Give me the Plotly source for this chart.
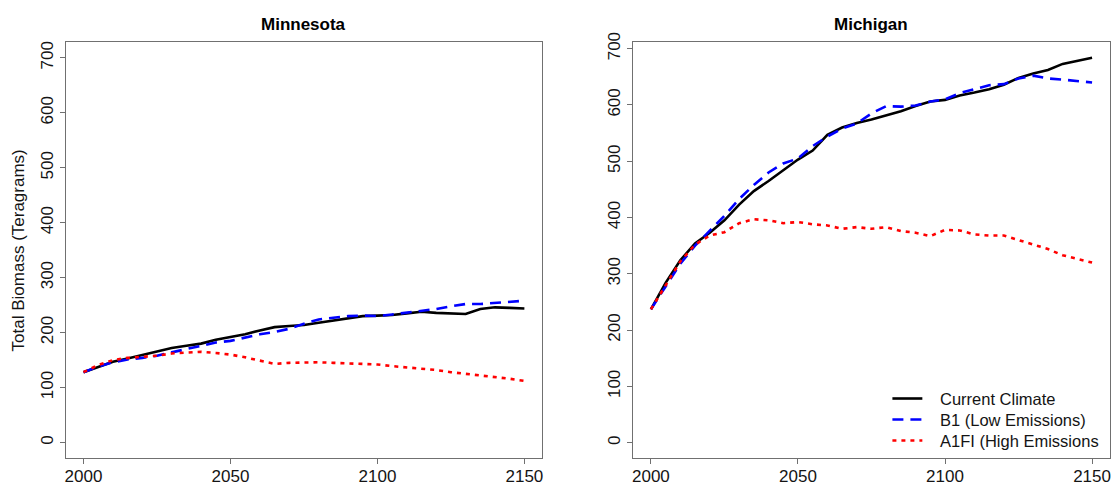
import plotly.graph_objects as go

# Simulated total forest biomass (Tg) under three climate scenarios
years = list(range(2000, 2151, 5))

mn_current = [128, 138, 147, 153, 159, 166, 172, 176, 180, 187, 192, 197, 204, 210, 212, 214,
              218, 222, 227, 230, 231, 232, 235, 238, 236, 235, 234, 243, 246, 245, 244]
mn_b1 = [128, 138, 146, 151, 154, 158, 164, 170, 176, 182, 185, 191, 197, 201, 207, 216,
         224, 227, 230, 231, 230, 233, 236, 240, 243, 248, 252, 252, 254, 256, 258]
mn_a1fi = [128, 141, 150, 154, 156, 158, 162, 164, 165, 163, 160, 155, 149, 143, 145, 146,
           146, 145, 144, 144, 142, 139, 137, 135, 132, 128, 125, 122, 120, 116, 112]

mi_current = [237, 284, 324, 354, 373, 395, 423, 447, 465, 484, 503, 519, 547, 560, 568, 574,
              581, 589, 598, 606, 609, 617, 622, 628, 636, 648, 656, 662, 673, 678, 684]
mi_b1 = [237, 278, 318, 350, 377, 403, 433, 458, 480, 496, 505, 527, 544, 558, 567, 585,
         598, 597, 599, 606, 610, 621, 628, 635, 637, 647, 652, 647, 645, 643, 640]
mi_a1fi = [237, 280, 322, 352, 368, 374, 390, 397, 395, 390, 392, 388, 386, 380, 383, 380,
           383, 376, 373, 367, 378, 377, 370, 368, 368, 360, 352, 344, 333, 326, 320]

states = ["Minnesota", "Michigan"]
scenario_names = ["Current Climate", "B1 (Low Emissions)", "A1FI (High Emissions"]
x_ticks = [2000, 2050, 2100, 2150]
y_ticks = [0, 100, 200, 300, 400, 500, 600, 700]

W, H = 1118, 486
FONT = "Liberation Sans, Arial, sans-serif"
AXIS_GREY = "#707070"
TEXT = "#141414"

styles = [
    dict(color="black", width=2.6, dash="solid"),
    dict(color="#0000ff", width=2.6, dash="11px,7px"),
    dict(color="#ff0000", width=2.6, dash="4px,5px"),
]

panel_data = [
    (mn_current, mn_b1, mn_a1fi),
    (mi_current, mi_b1, mi_a1fi),
]

fig = go.Figure()
for p, series in enumerate(panel_data):
    xa = "x" if p == 0 else "x2"
    ya = "y" if p == 0 else "y2"
    for s, vals in enumerate(series):
        fig.add_trace(go.Scatter(
            x=years, y=vals, mode="lines", xaxis=xa, yaxis=ya,
            name=scenario_names[s], line=styles[s], showlegend=False,
        ))

# pixel geometry of the two plot boxes
box_top, box_bottom = 33, 458.5
x_dom = [(65 / W, 542 / W), (633.4 / W, 1110.7 / W)]
y_dom = ((H - box_bottom) / H, (H - box_top) / H)
y_ranges = [(-28.4, 728.4), (-27.4, 711.4)]

axis_common = dict(
    showline=True, mirror=True, linecolor=AXIS_GREY, linewidth=1,
    ticks="outside", ticklen=5, tickcolor=AXIS_GREY, tickwidth=1,
    showgrid=False, zeroline=False,
    tickfont=dict(family=FONT, size=17, color=TEXT),
)

layout = dict(
    width=W, height=H,
    margin=dict(l=0, r=0, t=0, b=0),
    paper_bgcolor="white", plot_bgcolor="white",
    font=dict(family=FONT, size=16, color=TEXT),
    showlegend=False,
)
for p in range(2):
    sfx = "" if p == 0 else "2"
    layout["xaxis" + sfx] = dict(
        axis_common, domain=list(x_dom[p]), range=[1994, 2156],
        tickvals=x_ticks, anchor="y" + sfx, ticklabelstandoff=-3,
    )
    layout["yaxis" + sfx] = dict(
        axis_common, domain=list(y_dom), range=list(y_ranges[p]),
        tickvals=y_ticks, tickangle=-90, anchor="x" + sfx,
    )
fig.update_layout(**layout)

annotations = []
for p, name in enumerate(states):
    annotations.append(dict(
        text="<b>%s</b>" % name, xref="paper", yref="paper",
        x=(x_dom[p][0] + x_dom[p][1]) / 2, y=(H - 15) / H,
        xanchor="center", yanchor="middle", showarrow=False,
        font=dict(family=FONT, size=17, color="black"),
    ))
annotations.append(dict(
    text="Total Biomass (Teragrams)", xref="paper", yref="paper",
    x=17 / W, y=(H - 246) / H, xanchor="center", yanchor="middle",
    textangle=-90, showarrow=False,
    font=dict(family=FONT, size=17, color=TEXT),
))

# legend key drawn inside the Michigan panel
legend_x0, legend_x1, legend_text_x = 893, 923, 939
legend_rows = [397.5, 419, 440.5]
shapes = []
for s, name in enumerate(scenario_names):
    yy = (H - legend_rows[s]) / H
    shapes.append(dict(
        type="line", xref="paper", yref="paper",
        x0=legend_x0 / W, x1=legend_x1 / W, y0=yy, y1=yy,
        line=styles[s],
    ))
    annotations.append(dict(
        text=name, xref="paper", yref="paper",
        x=legend_text_x / W, y=yy, xanchor="left", yanchor="middle",
        showarrow=False, font=dict(family=FONT, size=16.5, color=TEXT),
    ))
fig.update_layout(annotations=annotations, shapes=shapes)

fig.write_html("out.html")
